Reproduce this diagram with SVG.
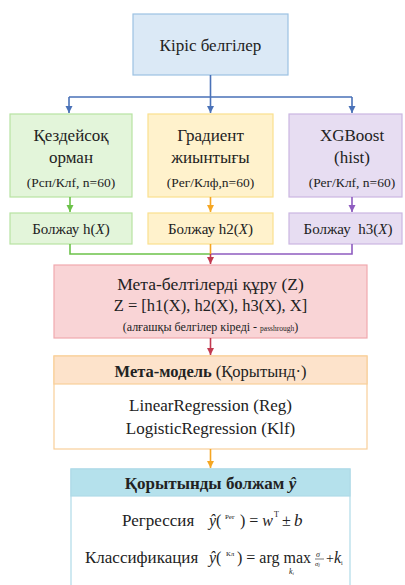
<svg xmlns="http://www.w3.org/2000/svg" width="405" height="585" viewBox="0 0 405 585">
<style>
text{font-family:'Liberation Serif', 'Times New Roman', serif;fill:#222}
.c{text-anchor:middle}
.conn{fill:none;stroke-width:1.6}
.it{font-style:italic}
</style>
<defs>
<marker id="aB" markerWidth="8" markerHeight="8" refX="7" refY="4" orient="auto" markerUnits="userSpaceOnUse"><path d="M0,0.5 L7,4 L0,7.5z" fill="#4a72b8"/></marker>
<marker id="aG" markerWidth="8" markerHeight="8" refX="7" refY="4" orient="auto" markerUnits="userSpaceOnUse"><path d="M0,0.5 L7,4 L0,7.5z" fill="#6cc24a"/></marker>
<marker id="aO" markerWidth="8" markerHeight="8" refX="7" refY="4" orient="auto" markerUnits="userSpaceOnUse"><path d="M0,0.5 L7,4 L0,7.5z" fill="#f5a623"/></marker>
<marker id="aP" markerWidth="8" markerHeight="8" refX="7" refY="4" orient="auto" markerUnits="userSpaceOnUse"><path d="M0,0.5 L7,4 L0,7.5z" fill="#8e5cc0"/></marker>
<marker id="aR" markerWidth="8" markerHeight="8" refX="7" refY="4" orient="auto" markerUnits="userSpaceOnUse"><path d="M0,0.5 L7,4 L0,7.5z" fill="#c23a50"/></marker>
</defs>
<rect width="405" height="585" fill="#ffffff"/>

<g id="input">
<rect x="133" y="14" width="155" height="61" fill="#dbe9f6" stroke="#9cc2e3" stroke-width="1.2"/>
<text class="c" x="210.5" y="51" font-size="17">Кіріс белгілер</text>
</g>

<g id="rf">
<rect x="10" y="114" width="122" height="83" fill="#e3f5da" stroke="#b7e3a2" stroke-width="1.2"/>
<text class="c" x="71" y="141" font-size="17">Қездейсоқ</text>
<text class="c" x="71" y="163" font-size="17">орман</text>
<text class="c" x="71" y="187" font-size="13.5">(Рсп/Клf, n=60)</text>
</g>
<g id="gb">
<rect x="148" y="114" width="125" height="83" fill="#fff2cc" stroke="#fbe08e" stroke-width="1.2"/>
<text class="c" x="210.5" y="141" font-size="17">Градиент</text>
<text class="c" x="210.5" y="163" font-size="17">жиынтығы</text>
<text class="c" x="210.5" y="187" font-size="13.5">(Рег/Клф,n=60)</text>
</g>
<g id="xgb">
<rect x="289" y="114" width="113" height="83" fill="#e7ddf2" stroke="#cbb6e2" stroke-width="1.2"/>
<text class="c" x="352" y="141" font-size="17">XGBoost</text>
<text class="c" x="352" y="163" font-size="17">(hist)</text>
<text class="c" x="352" y="187" font-size="13.5">(Рег/Клf, n=60)</text>
</g>

<g id="pred1">
<rect x="10" y="213" width="122" height="31" fill="#e3f5da" stroke="#b7e3a2" stroke-width="1.2"/>
<text class="c" x="71" y="234" font-size="15">Болжау h(<tspan class="it">X</tspan>)</text>
</g>
<g id="pred2">
<rect x="148" y="213" width="125" height="31" fill="#fff2cc" stroke="#fbe08e" stroke-width="1.2"/>
<text class="c" x="210.5" y="234" font-size="15">Болжау h2(<tspan class="it">X</tspan>)</text>
</g>
<g id="pred3">
<rect x="289" y="213" width="113" height="31" fill="#e7ddf2" stroke="#cbb6e2" stroke-width="1.2"/>
<text class="c" x="348" y="234" font-size="15" xml:space="preserve">Болжау  h3(<tspan class="it">X</tspan>)</text>
</g>

<g id="metafeat">
<rect x="54" y="265" width="313" height="73" fill="#f9d4d6" stroke="#f0a9ae" stroke-width="1.2"/>
<text class="c" x="210.5" y="290" font-size="17.5">Мета-белтілерді құру (Z)</text>
<text class="c" x="210.5" y="311" font-size="16.5">Z = [h1(X), h2(X), h3(X), X]</text>
<text class="c" x="210.5" y="331" font-size="12">(алғашқы белгілер кіреді - <tspan font-size="7.5">passhrough</tspan>)</text>
</g>

<g id="metamodel">
<rect x="54" y="356" width="313" height="93" fill="#ffffff" stroke="#f9cf99" stroke-width="1.2"/>
<rect x="54" y="356" width="313" height="28" fill="#fde3cb" stroke="#f9cf99" stroke-width="1.2"/>
<text class="c" x="210.5" y="377" font-size="16.5"><tspan font-weight="bold">Мета-модель</tspan> (Қорытынд·)</text>
<text class="c" x="210.5" y="411" font-size="17">LinearRegression (Reg)</text>
<text class="c" x="210.5" y="434" font-size="17">LogisticRegression (Klf)</text>
</g>

<g id="final">
<rect x="71" y="469" width="279" height="125" fill="#ffffff" stroke="#b0dbe8" stroke-width="1.2"/>
<rect x="71" y="469" width="279" height="27" fill="#b5e1ec" stroke="#b0dbe8" stroke-width="1.2"/>
<text class="c" x="210.5" y="489" font-size="17" font-weight="bold">Қорытынды болжам <tspan class="it">ŷ</tspan></text>
<text x="122" y="526" font-size="17">Регрессия</text>
<text x="209" y="526" font-size="16"><tspan class="it">ŷ</tspan>(</text>
<text x="225" y="519" font-size="7">Рег</text>
<text x="240" y="526" font-size="16">) = <tspan class="it">w</tspan></text>
<text x="274" y="517" font-size="8">T</text>
<text x="282" y="526" font-size="16">±</text>
<text x="294" y="526" font-size="17" class="it">b</text>
<text x="85" y="563" font-size="17">Классификация</text>
<text x="209" y="563" font-size="16"><tspan class="it">ŷ</tspan>(</text>
<text x="226" y="556" font-size="7">Кл</text>
<text x="237" y="563" font-size="16">) = arg max</text>
<text x="289" y="574" font-size="8" class="it">k<tspan font-size="5" dy="1">i</tspan></text>
<text x="316" y="557" font-size="8" class="it">σ</text>
<line x1="315" y1="559" x2="324" y2="559" stroke="#222" stroke-width="0.6"/>
<text x="315" y="566" font-size="7" class="it">σ<tspan font-size="5">j</tspan></text>
<text x="326" y="563" font-size="14">+<tspan class="it" font-size="16">k</tspan><tspan font-size="6" dy="2">i</tspan></text>
</g>

<g id="connectors">
<path class="conn" d="M210.5,75 V97 M69,97 H352" stroke="#4a72b8"/>
<path class="conn" d="M69,97 V113" stroke="#4a72b8" marker-end="url(#aB)"/>
<path class="conn" d="M210.5,97 V113" stroke="#4a72b8" marker-end="url(#aB)"/>
<path class="conn" d="M352,97 V113" stroke="#4a72b8" marker-end="url(#aB)"/>
<path class="conn" d="M70,197 V212" stroke="#6cc24a" marker-end="url(#aG)"/>
<path class="conn" d="M210.5,197 V212" stroke="#f5a623" marker-end="url(#aO)"/>
<path class="conn" d="M352,197 V212" stroke="#8e5cc0" marker-end="url(#aP)"/>
<path class="conn" d="M70,244 V254 H210.5" stroke="#6cc24a"/>
<path class="conn" d="M352,244 V254 H210.5" stroke="#8e5cc0"/>
<path class="conn" d="M210.5,244 V254" stroke="#f5a623"/>
<path class="conn" d="M210.5,254 V264" stroke="#c23a50" marker-end="url(#aR)"/>
<path class="conn" d="M210.5,338 V355" stroke="#c23a50" marker-end="url(#aR)"/>
<path class="conn" d="M210.5,449 V468" stroke="#f5a623" marker-end="url(#aO)"/>
</g>
</svg>
